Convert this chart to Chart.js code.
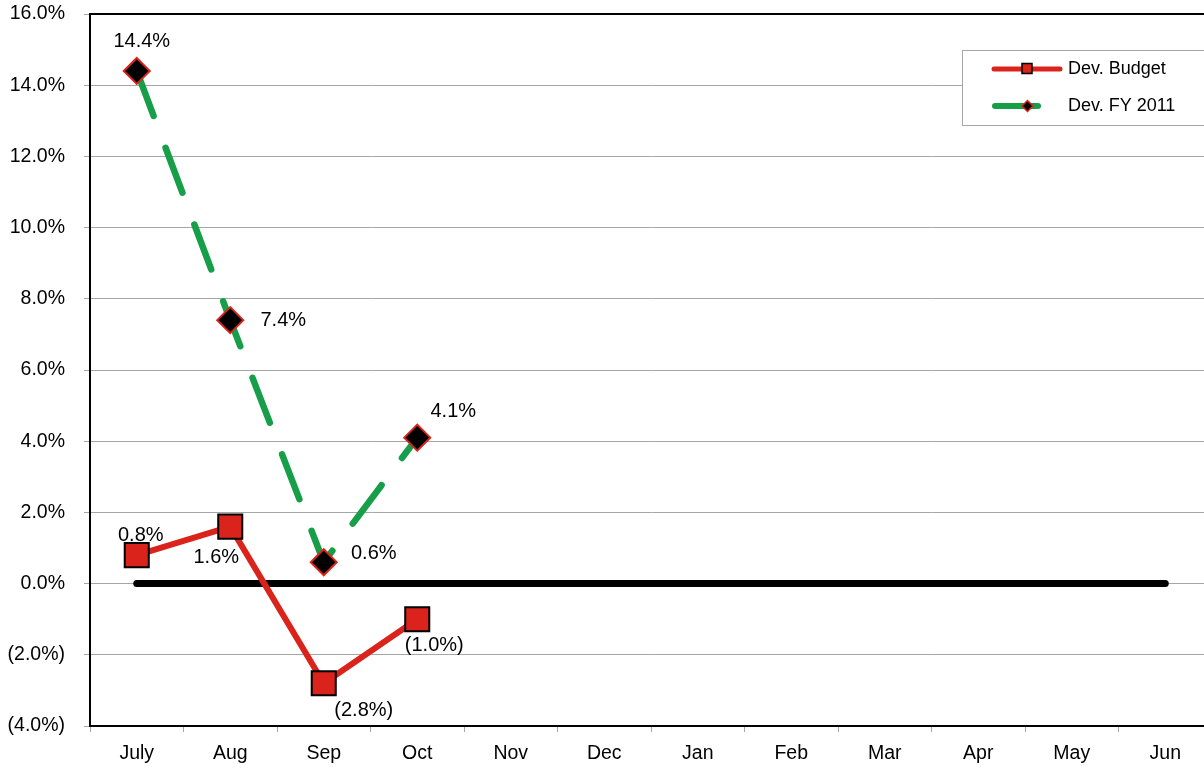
<!DOCTYPE html>
<html>
<head>
<meta charset="utf-8">
<script src="https://cdn.jsdelivr.net/npm/chart.js@4.4.0/dist/chart.umd.min.js"></script>
<style>
  html, body { margin: 0; padding: 0; background: #fff; overflow: hidden; width: 1204px; height: 767px; }
  canvas { display: block; margin-top: -5px; }
</style>
</head>
<body>
<canvas id="c" width="1231" height="772"></canvas>
<script>
// ---- data ----
const months = ['July', 'Aug', 'Sep', 'Oct', 'Nov', 'Dec', 'Jan', 'Feb', 'Mar', 'Apr', 'May', 'Jun'];
const devBudget = [0.8, 1.6, -2.8, -1.0, null, null, null, null, null, null, null, null];
const devFY2011 = [14.4, 7.4, 0.6, 4.1, null, null, null, null, null, null, null, null];
const zeroLine = [0, 0, 0, 0, 0, 0, 0, 0, 0, 0, 0, 0];
const yMin = -4, yMax = 16, yStep = 2;
const seriesNames = ['Dev. Budget', 'Dev. FY 2011'];

// ---- styles ----
const RED = '#d9231b';
const GREEN = '#179e48';
const FONT = '"Liberation Sans", Arial, sans-serif';
const SHIFT = 5; // canvas is shifted up by this many px
// label offsets (px) relative to each point
const budgetLabelOffsets = [[4, -20], [-14, 31], [40, 27], [17, 26]];
const fyLabelOffsets = [[5, -29], [53, 0], [50, -9], [36, -26]];

function fmt(v) {
  return v < 0 ? '(' + Math.abs(v).toFixed(1) + '%)' : v.toFixed(1) + '%';
}

const labelPlugin = {
  id: 'pointLabels',
  afterDatasetsDraw(chart) {
    const ctx = chart.ctx;
    ctx.save();
    ctx.font = '20px ' + FONT;
    ctx.fillStyle = '#000';
    ctx.textAlign = 'center';
    ctx.textBaseline = 'middle';
    const sets = [[1, devBudget, budgetLabelOffsets], [2, devFY2011, fyLabelOffsets]];
    sets.forEach(([di, vals, offs]) => {
      const meta = chart.getDatasetMeta(di);
      vals.forEach((v, i) => {
        if (v === null) return;
        const el = meta.data[i];
        const o = offs[i] || [0, -20];
        ctx.fillText(fmt(v), el.x + o[0], el.y + o[1]);
      });
    });
    ctx.restore();
  }
};

const framePlugin = {
  id: 'frame',
  afterDraw(chart) {
    const ctx = chart.ctx;
    const a = chart.chartArea;
    ctx.save();
    // top border
    ctx.strokeStyle = '#000';
    ctx.lineWidth = 2;
    ctx.beginPath();
    ctx.moveTo(a.left - 1, a.top);
    ctx.lineTo(a.right + 1, a.top);
    ctx.stroke();

    ctx.translate(0, SHIFT);
    // legend
    const lx = 962.5, ly = 50.5, lw = 280, lh = 75;
    ctx.fillStyle = '#fff';
    ctx.fillRect(lx, ly, lw, lh);
    ctx.strokeStyle = '#a6a6a6';
    ctx.lineWidth = 1;
    ctx.strokeRect(lx, ly, lw, lh);

    // Dev. Budget sample
    ctx.lineCap = 'round';
    ctx.strokeStyle = RED;
    ctx.lineWidth = 5;
    ctx.beginPath();
    ctx.moveTo(994, 69);
    ctx.lineTo(1060, 69);
    ctx.stroke();
    ctx.fillStyle = RED;
    ctx.fillRect(1022, 63.5, 10, 10);
    ctx.strokeStyle = '#000';
    ctx.lineWidth = 1.5;
    ctx.strokeRect(1022, 63.5, 10, 10);

    // Dev. FY 2011 sample
    ctx.strokeStyle = GREEN;
    ctx.lineWidth = 6;
    ctx.beginPath();
    ctx.moveTo(995, 106);
    ctx.lineTo(1038, 106);
    ctx.stroke();
    ctx.beginPath();
    ctx.moveTo(1027.5, 100.5);
    ctx.lineTo(1033, 106);
    ctx.lineTo(1027.5, 111.5);
    ctx.lineTo(1022, 106);
    ctx.closePath();
    ctx.fillStyle = '#000';
    ctx.fill();
    ctx.strokeStyle = RED;
    ctx.lineWidth = 1.5;
    ctx.stroke();

    ctx.fillStyle = '#000';
    ctx.font = '18px ' + FONT;
    ctx.textAlign = 'left';
    ctx.textBaseline = 'middle';
    ctx.fillText(seriesNames[0], 1068, 69);
    ctx.fillText(seriesNames[1], 1068, 106);
    ctx.restore();
  }
};

new Chart(document.getElementById('c'), {
  type: 'line',
  data: {
    labels: months,
    datasets: [
      {
        label: 'zero',
        data: zeroLine,
        borderColor: '#000',
        borderWidth: 7,
        borderCapStyle: 'round',
        pointRadius: 0,
        order: 3
      },
      {
        label: seriesNames[0],
        data: devBudget,
        borderColor: RED,
        borderWidth: 6,
        borderJoinStyle: 'round',
        pointStyle: 'rect',
        pointRadius: 17,
        pointBackgroundColor: RED,
        pointBorderColor: '#000',
        pointBorderWidth: 2,
        order: 1
      },
      {
        label: seriesNames[1],
        data: devFY2011,
        borderColor: GREEN,
        borderWidth: 6.5,
        borderDash: [48, 34],
        borderCapStyle: 'round',
        pointStyle: 'rectRot',
        pointRadius: 13,
        pointBackgroundColor: '#000',
        pointBorderColor: RED,
        pointBorderWidth: 2,
        order: 2
      }
    ]
  },
  options: {
    responsive: false,
    animation: false,
    devicePixelRatio: 1,
    layout: { padding: { top: 8, right: 13, left: 0, bottom: 0 } },
    plugins: {
      legend: { display: false },
      title: { display: false },
      tooltip: { enabled: false }
    },
    scales: {
      x: {
        offset: true,
        grid: {
          offset: true,
          drawOnChartArea: false,
          drawTicks: true,
          tickLength: 6,
          color: '#a6a6a6'
        },
        border: { color: '#000', width: 2 },
        ticks: {
          color: '#000',
          font: { family: FONT, size: 19.5 },
          padding: 10,
          maxRotation: 0,
          autoSkip: false
        },
        afterFit(s) { s.height = 41; s.paddingLeft = 0; s.paddingRight = 0; }
      },
      y: {
        min: yMin,
        max: yMax,
        ticks: {
          stepSize: yStep,
          color: '#000',
          font: { family: FONT, size: 19.5 },
          padding: 19,
          callback: (v) => fmt(v)
        },
        grid: {
          color: '#a6a6a6',
          lineWidth: 1,
          tickLength: 6
        },
        border: { color: '#000', width: 2 },
        afterFit(s) { s.width = 90; s.paddingTop = 0; s.paddingBottom = 0; }
      }
    }
  },
  plugins: [labelPlugin, framePlugin]
});
</script>
</body>
</html>
